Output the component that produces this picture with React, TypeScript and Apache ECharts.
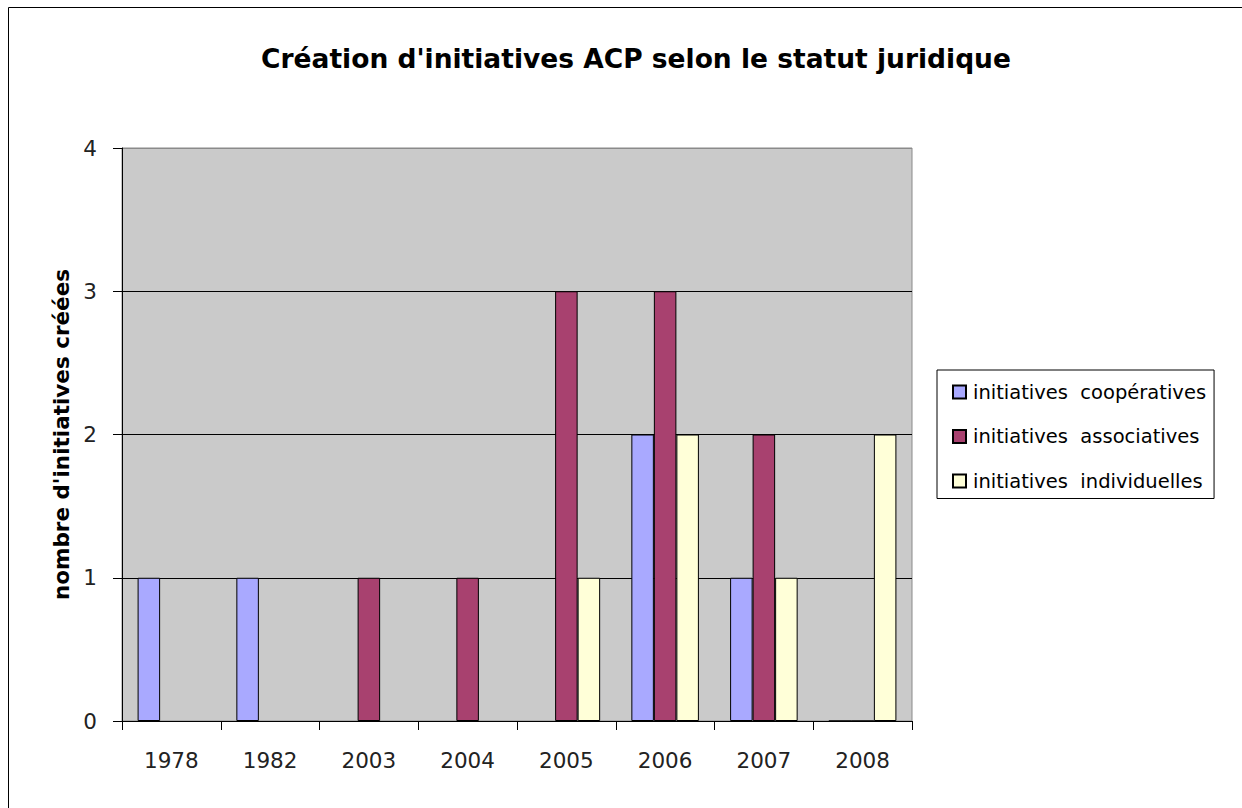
import React, { useEffect, useRef } from "react";
import * as echarts from "echarts";

const titleText = "Création d'initiatives ACP selon le statut juridique";
const yAxisName = "nombre d'initiatives créées";
const years = ["1978", "1982", "2003", "2004", "2005", "2006", "2007", "2008"];
const seriesNames = ["initiatives  coopératives", "initiatives  associatives", "initiatives  individuelles"];
const cooperatives = [1, 1, null, null, null, 2, 1, 0];
const associatives = [null, null, 1, 1, 3, 3, 2, 0];
const individuelles = [null, null, null, null, 1, 2, 1, 2];
const yTicks = [0, 1, 2, 3, 4];
const colors = ["#A9A9FF", "#A8416F", "#FFFFD8"];

export default function App() {
  const ref = useRef<HTMLDivElement>(null);
  useEffect(() => {
    document.body.style.margin = "0";
    const chart = echarts.init(ref.current!, null, { renderer: "svg" });
    const font = "'DejaVu Sans', Verdana, sans-serif";
    const data = [cooperatives, associatives, individuelles];
    chart.setOption({
      animation: false,
      backgroundColor: "#fff",
      textStyle: { fontFamily: font },
      title: {
        text: titleText,
        left: 631,
        textAlign: "center",
        top: 40,
        textStyle: { fontFamily: font, fontSize: 26.5, fontWeight: "bold", color: "#000" },
      },
      graphic: [
        {
          type: "rect",
          shape: { x: 8.5, y: 7.5, width: 1300, height: 900 },
          style: { fill: "none", stroke: "#000", lineWidth: 1 },
          silent: true,
          z: -10,
        },
      ],
      legend: {
        orient: "vertical",
        left: 937,
        top: 370,
        backgroundColor: "#fff",
        borderColor: "#000",
        borderWidth: 1,
        borderRadius: 0,
        padding: [12, 8, 7.5, 15],
        itemGap: 24.5,
        itemWidth: 13,
        itemHeight: 13,
        icon: "rect",
        textStyle: { fontFamily: font, fontSize: 19.5, color: "#000", padding: [0, 0, 0, 2] },
        data: seriesNames,
      },
      grid: {
        left: 122,
        right: 330,
        top: 148,
        bottom: 87,
        show: true,
        backgroundColor: "#CACACA",
        borderColor: "#8A8A8A",
        borderWidth: 1,
      },
      xAxis: {
        type: "category",
        data: years,
        axisLine: { lineStyle: { color: "#000", width: 1 } },
        axisTick: { show: true, length: 9, lineStyle: { color: "#000" } },
        axisLabel: { fontFamily: font, fontSize: 21.5, color: "#222", margin: 28 },
      },
      yAxis: {
        type: "value",
        min: 0,
        max: 4,
        interval: 1,
        name: yAxisName,
        nameLocation: "middle",
        nameGap: 50,
        nameTextStyle: { fontFamily: font, fontSize: 21.5, fontWeight: "bold", color: "#000" },
        axisLine: { show: true, lineStyle: { color: "#000", width: 1 } },
        axisTick: { show: true, length: 9, lineStyle: { color: "#000" } },
        axisLabel: {
          fontFamily: font,
          fontSize: 21.5,
          color: "#222",
          margin: 25,
          formatter: (v: number) => (yTicks.includes(v) ? String(v) : ""),
        },
        splitLine: {
          show: true,
          lineStyle: { color: ["#000", "#000", "#000", "#000", "#8A8A8A"], width: 1 },
        },
      },
      series: seriesNames.map((name, i) => ({
        name,
        type: "bar",
        data: data[i],
        barGap: "0%",
        barCategoryGap: "31.6%",
        itemStyle: { color: colors[i], borderColor: "#000", borderWidth: 1 },
      })),
    });
    return () => chart.dispose();
  }, []);
  return <div ref={ref} style={{ width: 1242, height: 808 }} />;
}
